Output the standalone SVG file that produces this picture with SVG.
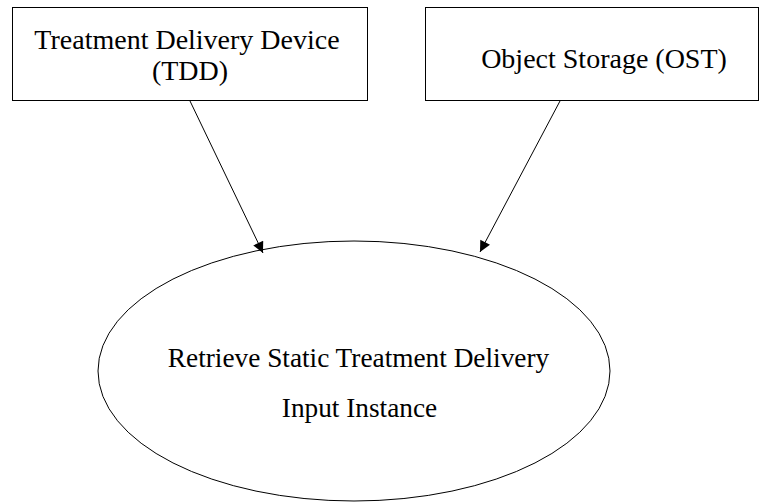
<svg xmlns="http://www.w3.org/2000/svg" width="763" height="502" viewBox="0 0 763 502">
<style>
.box{fill:#fff;stroke:#000;stroke-width:1}
.c{stroke:#000;stroke-width:1;fill:none}
.t{font-family:'Liberation Serif', serif;fill:#000;text-anchor:middle}
.bt{font-size:28px}
.et{font-size:27.3px}
</style>
<defs>
<marker id="ah" viewBox="0 0 10 10" refX="10" refY="5" markerWidth="12" markerHeight="11" markerUnits="userSpaceOnUse" orient="auto">
<path d="M0,0 L10,5 L0,10 Z" fill="#000"/>
</marker>
</defs>
<rect width="763" height="502" fill="#fff"/>
<g id="tdd">
<rect class="box" x="12.5" y="7.5" width="355" height="93"/>
<text class="t bt" x="187" y="49">Treatment Delivery Device</text>
<text class="t bt" x="190" y="80">(TDD)</text>
</g>
<g id="ost">
<rect class="box" x="425.5" y="7.5" width="333" height="93"/>
<text class="t bt" x="604" y="68">Object Storage (OST)</text>
</g>
<g id="retrieve">
<ellipse class="box" cx="354" cy="371" rx="256" ry="130"/>
<text class="t et" x="358.5" y="367">Retrieve Static Treatment Delivery</text>
<text class="t et" x="359.5" y="417">Input Instance</text>
</g>
<g id="connectors">
<line class="c" x1="190" y1="101" x2="263" y2="253" marker-end="url(#ah)"/>
<line class="c" x1="560" y1="101" x2="480" y2="252" marker-end="url(#ah)"/>
</g>
</svg>
